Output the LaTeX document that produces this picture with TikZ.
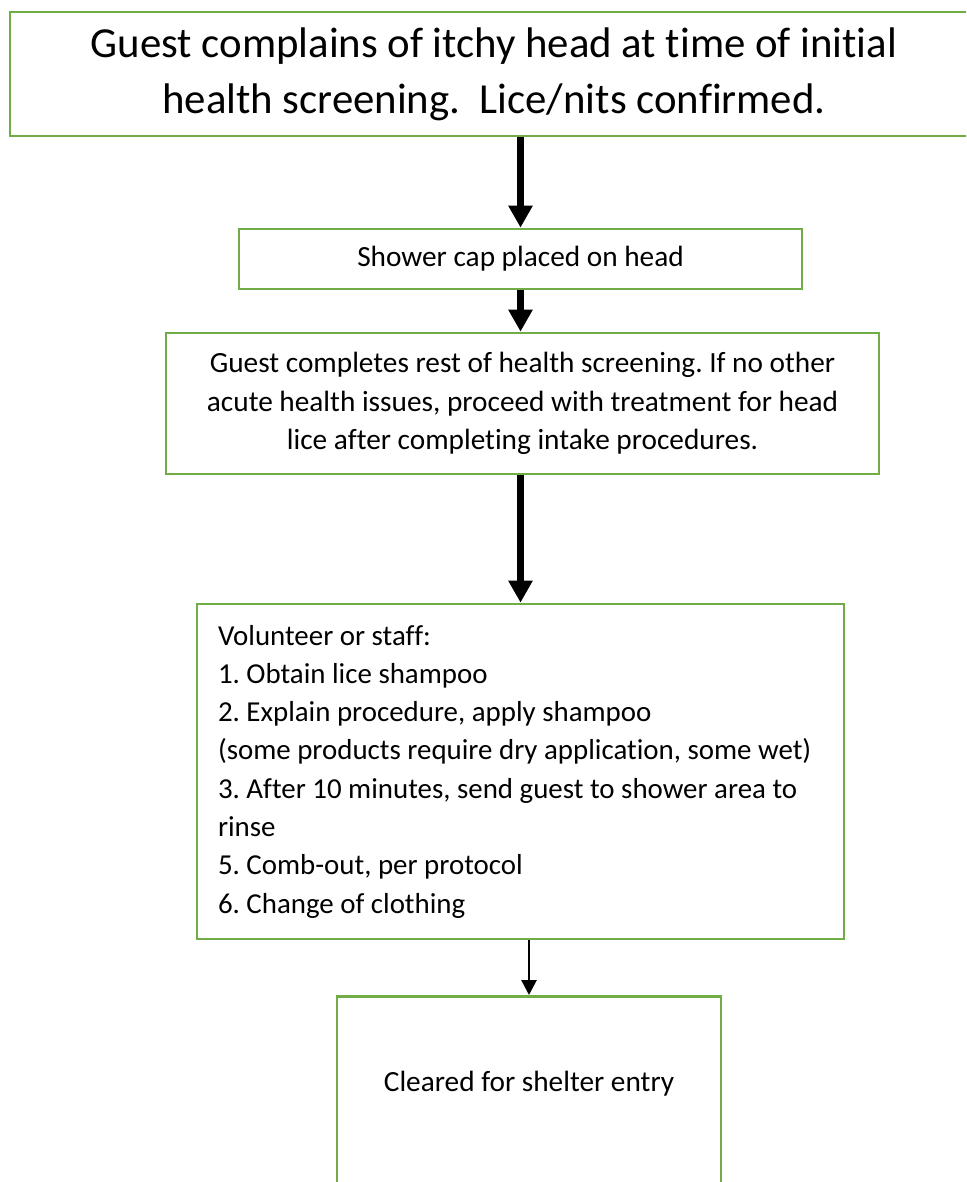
\documentclass[tikz,border=0pt]{standalone}
\usepackage{fontspec}
\setmainfont{Carlito}[Ligatures=NoCommon]
\usetikzlibrary{arrows.meta}
\definecolor{boxgreen}{HTML}{70AD47}
\begin{document}
\begin{tikzpicture}[x=1pt,y=-1pt,
    stepbox/.style={draw=boxgreen,line width=2.7pt,inner sep=0pt,align=center},
    bigarrow/.style={line width=6.7pt,-{Triangle[width=23pt,length=22pt]}},
    smallarrow/.style={line width=2.7pt,-{Triangle[width=15pt,length=15pt]}}]
    \useasboundingbox (0,0) rectangle (966,1182);
    \clip (0,0) rectangle (966,1182);
    \frenchspacing\fontsize{29.3}{38.2}\selectfont
    % \draw[gray!50] (0,0) rectangle (966,1182);
    \node[stepbox,minimum width=968pt,minimum height=124pt,font=\fontsize{42.8}{56}\selectfont] (guest) at (494,74)
        {Guest complains of itchy head at time of initial\\health screening.\ \ Lice/nits confirmed.};
    \node[stepbox,minimum width=563pt,minimum height=60pt] (cap) at (520.5,259) {Shower cap placed on head};
    \node[stepbox,minimum width=713pt,minimum height=141pt] (rest) at (522.5,403.5)
        {Guest completes rest of health screening. If no other\\acute health issues, proceed with treatment for head\\lice after completing intake procedures.};
    \node[stepbox,minimum width=647pt,minimum height=335pt,align=flush left,text width=605pt,
          font=\fontsize{28.9}{38.3}\selectfont] (volunteer) at (520.5,771.5)
        {Volunteer or staff:\\1. Obtain lice shampoo\\2. Explain procedure, apply shampoo\\(some products require dry application, some wet)\\3. After 10 minutes, send guest to shower area to\\rinse\\5. Comb-out, per protocol\\6. Change of clothing};
    \node[stepbox,anchor=north,minimum width=384pt,text height=95pt,text depth=200pt] (cleared) at (529,995) {Cleared for shelter entry};
    \draw[bigarrow]   (guest.south -| cap.north) -- (cap.north);
    \draw[bigarrow]   (cap.south) -- (cap.south |- rest.north);
    \draw[bigarrow]   (cap.south |- rest.south) -- (cap.south |- volunteer.north);
    \draw[smallarrow] (cleared.north |- volunteer.south) -- (cleared.north);
\end{tikzpicture}
\end{document}
